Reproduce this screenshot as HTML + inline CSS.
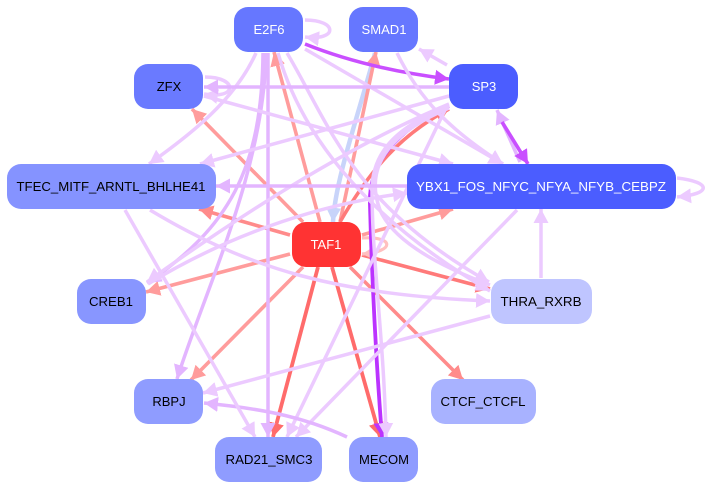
<!DOCTYPE html>
<html><head><meta charset="utf-8">
<style>
html,body{margin:0;padding:0;background:#fff;width:707px;height:489px;overflow:hidden}
svg{display:block}
path{fill:none;stroke-linecap:butt}
text{font-family:"Liberation Sans",sans-serif;font-size:13px;text-anchor:middle}
.r1{stroke:#ff9c9c;stroke-width:3.6}
.r2{stroke:#ff7a7a;stroke-width:3.6}
.r3{stroke:#ff6b6b;stroke-width:3.8}
.r4{stroke:#ff8b8b;stroke-width:3.6}
.s{stroke:#ffc0c0;stroke-width:3.2}
.p1{stroke:#eccaff;stroke-width:3.5}
.p2{stroke:#e3b5ff;stroke-width:3.5}
.v1{stroke:#c94fff;stroke-width:3.6}
.v2{stroke:#bb33ff;stroke-width:3.8}
.l{stroke:#c8d4fa;stroke-width:4.5}
</style></head><body>
<svg width="707" height="489" viewBox="0 0 707 489" xmlns="http://www.w3.org/2000/svg">
<defs>
<marker id="mr1" markerUnits="userSpaceOnUse" markerWidth="15" markerHeight="16" refX="14" refY="8" orient="auto"><polygon points="0,0.5 14,8 0,15.5" fill="#ff9c9c"/></marker>
<marker id="mr2" markerUnits="userSpaceOnUse" markerWidth="15" markerHeight="16" refX="14" refY="8" orient="auto"><polygon points="0,0.5 14,8 0,15.5" fill="#ff7a7a"/></marker>
<marker id="mr3" markerUnits="userSpaceOnUse" markerWidth="15" markerHeight="16" refX="14" refY="8" orient="auto"><polygon points="0,0.5 14,8 0,15.5" fill="#ff6b6b"/></marker>
<marker id="mr4" markerUnits="userSpaceOnUse" markerWidth="15" markerHeight="16" refX="14" refY="8" orient="auto"><polygon points="0,0.5 14,8 0,15.5" fill="#ff8b8b"/></marker>
<marker id="ms" markerUnits="userSpaceOnUse" markerWidth="15" markerHeight="16" refX="14" refY="8" orient="auto"><polygon points="0,0.5 14,8 0,15.5" fill="#ffc0c0"/></marker>
<marker id="mp1" markerUnits="userSpaceOnUse" markerWidth="15" markerHeight="16" refX="14" refY="8" orient="auto"><polygon points="0,0.5 14,8 0,15.5" fill="#eccaff"/></marker>
<marker id="mp2" markerUnits="userSpaceOnUse" markerWidth="15" markerHeight="16" refX="14" refY="8" orient="auto"><polygon points="0,0.5 14,8 0,15.5" fill="#e3b5ff"/></marker>
<marker id="mv1" markerUnits="userSpaceOnUse" markerWidth="15" markerHeight="16" refX="14" refY="8" orient="auto"><polygon points="0,0.5 14,8 0,15.5" fill="#c94fff"/></marker>
<marker id="mv2" markerUnits="userSpaceOnUse" markerWidth="15" markerHeight="16" refX="14" refY="8" orient="auto"><polygon points="0,0.5 14,8 0,15.5" fill="#bb33ff"/></marker>
<marker id="ml" markerUnits="userSpaceOnUse" markerWidth="15" markerHeight="16" refX="14" refY="8" orient="auto"><polygon points="0,0.5 14,8 0,15.5" fill="#c8d4fa"/></marker>
</defs>

<!-- lavender -->
<path class="l" marker-end="url(#ml)" d="M375,53 C360,110 335,180 333,222"/>

<!-- red edges -->
<path class="r1" marker-end="url(#mr1)" d="M320,222 L274,52"/>
<path class="r1" marker-end="url(#mr1)" d="M303,222 L192,109"/>
<path class="r1" marker-end="url(#mr1)" d="M340,222 L376,52"/>
<path class="r2" marker-end="url(#mr2)" d="M340,222 C370,170 400,135 449,109"/>
<path class="r4" marker-end="url(#mr4)" d="M290,235 L199,209"/>
<path class="r1" marker-end="url(#mr1)" d="M362,235 L453,209"/>
<path class="r1" marker-end="url(#mr1)" d="M290,254 L146,292"/>
<path class="r2" marker-end="url(#mr2)" d="M362,255 L490,289"/>
<path class="r1" marker-end="url(#mr1)" d="M303,267 L191,380"/>
<path class="r3" marker-end="url(#mr3)" d="M318,267 L273,437"/>
<path class="r3" marker-end="url(#mr3)" d="M332,267 L380,437"/>
<path class="r4" marker-end="url(#mr4)" d="M350,267 L463,380"/>
<path class="s" marker-end="url(#ms)" d="M362,238 C395,236 395,252 362,254"/>

<!-- purple -->
<path class="v1" marker-end="url(#mv1)" d="M305,44 C350,62 400,73 449,79"/>
<path class="v2" marker-end="url(#mv2)" d="M449,106 C395,130 368,165 370,205 C372,280 376,360 382,437"/>

<!-- pink edges -->
<path class="p1" marker-end="url(#mp1)" d="M305,49 L503,164"/>
<path class="p1" marker-end="url(#mp1)" d="M256,53 C235,100 190,135 149,164"/>
<path class="p2" marker-end="url(#mp2)" d="M266,53 C264,170 205,290 177,379"/>
<path class="p2" marker-end="url(#mp2)" d="M263,53 C262,170 228,228 147,283"/>
<path class="p2" marker-end="url(#mp2)" d="M268,53 L268,437"/>
<path class="p1" marker-end="url(#mp1)" d="M278,53 C300,130 360,215 490,291"/>
<path class="p1" marker-end="url(#mp1)" d="M287,53 C330,125 352,205 489,282"/>
<path class="p1" marker-end="url(#mp1)" d="M305,20 C338,20 338,41 305,37"/>
<path class="p1" marker-end="url(#mp1)" d="M205,77 C238,77 238,100 204,94"/>
<path class="p2" marker-end="url(#mp2)" d="M449,87 L204,87"/>
<path class="p1" marker-end="url(#mp1)" d="M204,96 L453,164"/>
<path class="p1" marker-end="url(#mp1)" d="M449,96 L200,164"/>
<path class="p1" marker-end="url(#mp1)" d="M449,104 C350,145 240,215 147,282"/>
<path class="p1" marker-end="url(#mp1)" d="M449,106 C400,125 372,150 372,190 C372,260 384,340 386,437"/>
<path class="p1" marker-end="url(#mp1)" d="M449,108 C385,135 365,170 380,210 C395,245 450,270 490,285"/>
<path class="p1" marker-end="url(#mp1)" d="M445,110 L287,437"/>
<path class="p1" marker-end="url(#mp1)" d="M447,65 L419,49"/>
<path class="p1" marker-end="url(#mp1)" d="M397,53 C420,100 450,130 503,164"/>
<path class="p1" marker-end="url(#mp1)" d="M148,284 C220,240 310,205 407,193"/>
<path class="p2" marker-end="url(#mp2)" d="M407,186 L216,186"/>
<path class="p1" marker-end="url(#mp1)" d="M677,178 C712,182 712,194 677,197"/>
<path class="p1" marker-end="url(#mp1)" d="M517,210 L296,437"/>
<path class="p1" marker-end="url(#mp1)" d="M490,316 L203,393"/>
<path class="p2" marker-end="url(#mp2)" d="M347,437 C300,415 255,408 204,403"/>
<path class="p1" marker-end="url(#mp1)" d="M125,210 L255,437"/>
<path class="p1" marker-end="url(#mp1)" d="M150,210 C250,270 340,295 490,301"/>
<path class="p1" marker-end="url(#mp1)" d="M541,278 L541,209"/>
<path class="p2" marker-end="url(#mp2)" d="M520,162 L497,110"/>
<path class="v1" marker-end="url(#mv1)" d="M502,122 L528,164"/>

<!-- nodes -->
<g>
<rect x="234" y="7" width="69" height="45" rx="14" fill="#6677ff"/>
<rect x="349" y="7" width="69" height="45" rx="14" fill="#6677ff"/>
<rect x="134" y="64" width="69" height="45" rx="14" fill="#6a7aff"/>
<rect x="449" y="64" width="69" height="45" rx="14" fill="#4b5dff"/>
<rect x="7" y="164" width="209" height="45" rx="14" fill="#8593ff"/>
<rect x="407" y="164" width="269" height="45" rx="14" fill="#4b5dff"/>
<rect x="292" y="222" width="69" height="45" rx="14" fill="#ff3333"/>
<rect x="77" y="279" width="69" height="45" rx="14" fill="#8896ff"/>
<rect x="491" y="279" width="101" height="45" rx="14" fill="#bfc5ff"/>
<rect x="134" y="379" width="69" height="45" rx="14" fill="#8f9cff"/>
<rect x="431" y="379" width="105" height="45" rx="14" fill="#a8b2ff"/>
<rect x="215" y="437" width="107" height="45" rx="14" fill="#8f9cff"/>
<rect x="349" y="437" width="69" height="45" rx="14" fill="#8f9cff"/>
</g>
<g>
<text x="269" y="34" fill="#fff">E2F6</text>
<text x="384" y="34" fill="#fff" textLength="45" lengthAdjust="spacingAndGlyphs">SMAD1</text>
<text x="169" y="91" fill="#000">ZFX</text>
<text x="484" y="91" fill="#fff">SP3</text>
<text x="111" y="191" fill="#000" textLength="189" lengthAdjust="spacingAndGlyphs">TFEC_MITF_ARNTL_BHLHE41</text>
<text x="541" y="191" fill="#fff" textLength="250" lengthAdjust="spacingAndGlyphs">YBX1_FOS_NFYC_NFYA_NFYB_CEBPZ</text>
<text x="326" y="249" fill="#fff">TAF1</text>
<text x="111" y="306" fill="#000" textLength="44" lengthAdjust="spacingAndGlyphs">CREB1</text>
<text x="541" y="306" fill="#000" textLength="81" lengthAdjust="spacingAndGlyphs">THRA_RXRB</text>
<text x="169" y="406" fill="#000">RBPJ</text>
<text x="483" y="406" fill="#000" textLength="85" lengthAdjust="spacingAndGlyphs">CTCF_CTCFL</text>
<text x="269" y="464" fill="#000" textLength="87" lengthAdjust="spacingAndGlyphs">RAD21_SMC3</text>
<text x="384" y="464" fill="#000" textLength="50" lengthAdjust="spacingAndGlyphs">MECOM</text>
</g>
</svg>
</body></html>
